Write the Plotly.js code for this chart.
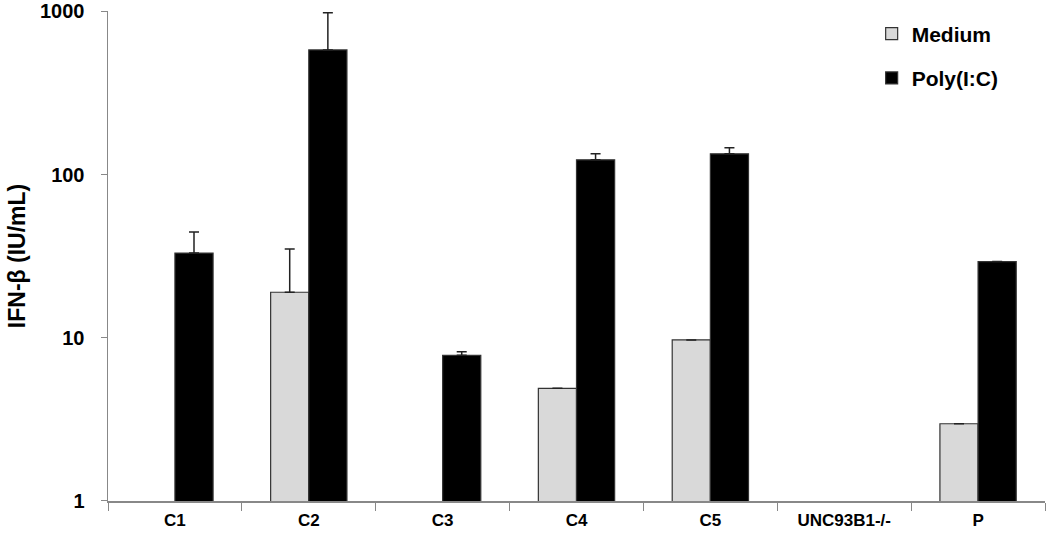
<!DOCTYPE html>
<html>
<head>
<meta charset="utf-8">
<script src="https://cdn.plot.ly/plotly-3.0.1.min.js"></script>
<style>
  html, body { margin: 0; padding: 0; background: #fff; }
  #chart { width: 1050px; height: 542px; }
</style>
</head>
<body>
<div id="chart"></div>
<script>
var groups = ['C1', 'C2', 'C3', 'C4', 'C5', 'UNC93B1-/-', 'P'];

// null = not detected (no bar); NaN = no error bar
var medium = [null, 19, null, 4.9, 9.7, null, 2.97];
var mediumErr = [NaN, 16, NaN, NaN, NaN, NaN, NaN];

var poly = [33, 580, 7.8, 123, 134, null, 29.3];
var polyErr = [11.5, 400, 0.4, 11, 12, NaN, NaN];

var zeros = [0, 0, 0, 0, 0, 0, 0];

var traceMedium = {
  x: groups,
  y: medium,
  type: 'bar',
  name: 'Medium',
  legendgroup: 'm',
  marker: { color: '#d9d9d9', line: { color: '#333', width: 1.2 } },
  error_y: {
    type: 'data', symmetric: false, array: mediumErr, arrayminus: zeros,
    color: '#222', thickness: 1.5, width: 5
  }
};

var tracePoly = {
  x: groups,
  y: poly,
  type: 'bar',
  name: 'Poly(I:C)',
  legendgroup: 'p',
  marker: { color: '#000', line: { color: '#333', width: 1.2 } },
  error_y: {
    type: 'data', symmetric: false, array: polyErr, arrayminus: zeros,
    color: '#222', thickness: 1.5, width: 5
  }
};

var layout = {
  width: 1050,
  height: 542,
  margin: { l: 108, r: 5, t: 11, b: 41 },
  paper_bgcolor: '#fff',
  plot_bgcolor: '#fff',
  font: { family: 'Liberation Sans, Arial, sans-serif', color: '#000' },
  barmode: 'group',
  bargap: 0.43,
  bargroupgap: 0,
  showlegend: true,
  legend: {
    x: 0.815, y: 0.995, xanchor: 'left', yanchor: 'top',
    traceorder: 'grouped', tracegroupgap: 14,
    font: { size: 21, family: 'Liberation Sans, Arial, sans-serif', weight: 'bold' },
    bgcolor: 'rgba(0,0,0,0)'
  },
  xaxis: {
    type: 'category',
    showline: true, linecolor: '#888', linewidth: 1.5,
    ticks: 'outside', tickson: 'boundaries', ticklen: 8, tickcolor: '#888',
    ticklabelstandoff: 3,
    tickfont: { size: 17, weight: 'bold' },
    showgrid: false, zeroline: false
  },
  yaxis: {
    type: 'log',
    range: [-0.0005, 3.002],
    tickvals: [1, 10, 100, 1000],
    ticktext: ['1', '10', '100', '1000'],
    showline: true, linecolor: '#888', linewidth: 1.5,
    ticks: 'outside', ticklen: 6, tickcolor: '#888',
    ticklabelstandoff: 12,
    ticklabeloverflow: 'allow',
    tickfont: { size: 20, weight: 'bold' },
    showgrid: false, zeroline: false,
    title: { text: 'IFN-β (IU/mL)', font: { size: 23, weight: 'bold' }, standoff: 8 }
  }
};

Plotly.newPlot('chart', [traceMedium, tracePoly], layout, { displayModeBar: false, staticPlot: true });
</script>
</body>
</html>
